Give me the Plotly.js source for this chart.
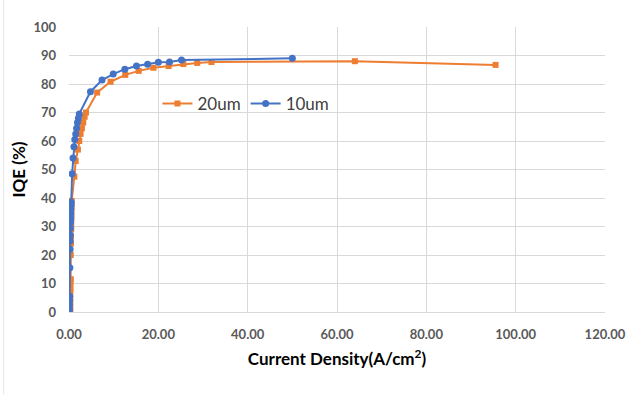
<!DOCTYPE html>
<html>
<head>
<meta charset="utf-8">
<script src="https://cdn.plot.ly/plotly-3.0.1.min.js"></script>
<style>html,body{margin:0;padding:0;background:#fff;}#chart{width:630px;height:394px;}</style>
</head>
<body>
<div id="chart"></div>
<script>
// Series 20um (orange squares)
const x20 = [0.3,0.3,0.3,0.3,0.35,0.35,0.4,0.4,0.45,0.45,0.5,0.5,0.55,0.55,0.6,0.6,1.2,1.5,2.0,2.3,2.6,2.9,3.2,3.5,3.8,6.3,9.3,12.6,15.6,18.9,22.3,25.6,28.7,31.9,64.0,95.5];
const y20 = [0,2,4,6,8,10,11.5,20,24,26.5,29,31,33,35,37,39,47.5,53,57,60,62.5,64.5,66.5,68.5,70,77,80.8,83.2,84.6,85.7,86.3,87,87.4,87.7,88,86.7];
// Series 10um (blue circles)
const x10 = [0.1,0.1,0.12,0.14,0.16,0.2,0.25,0.28,0.3,0.32,0.35,0.38,0.4,0.42,0.45,0.5,0.7,0.9,1.1,1.3,1.5,1.7,1.9,2.1,2.3,4.8,7.4,9.9,12.5,15.1,17.6,20.0,22.5,25.2,50.0];
const y10 = [0,1,2.5,4,5.5,15.5,22,25,27,29.5,31.5,33,34.5,36,37.5,38.5,48.5,54,58,60.5,62.5,64.5,66.5,68,69.5,77.3,81.4,83.5,85.2,86.3,86.9,87.6,87.7,88.4,89];
const seriesNames = ['20um', '10um'];
const xTicks = [0,20,40,60,80,100,120];
const yTicks = [0,10,20,30,40,50,60,70,80,90,100];

const FONT = 'Lato, "Open Sans", sans-serif';
const traces = [
  {x: x20, y: y20, name: seriesNames[0], type: 'scatter', mode: 'lines+markers',
   line: {color: '#ED7D31', width: 2}, marker: {symbol: 'square', size: 6, color: '#ED7D31'}},
  {x: x10, y: y10, name: seriesNames[1], type: 'scatter', mode: 'lines+markers',
   line: {color: '#4472C4', width: 2}, marker: {symbol: 'circle', size: 7, color: '#4472C4'}}
];
const layout = {
  width: 630, height: 394,
  margin: {l: 68.5, r: 25, t: 27, b: 82},
  paper_bgcolor: '#ffffff', plot_bgcolor: '#ffffff',
  showlegend: true,
  legend: {orientation: 'h', x: 0.165, y: 0.73, xanchor: 'left', yanchor: 'middle',
           bgcolor: 'rgba(0,0,0,0)', font: {family: FONT, size: 17, color: '#404040'},
           itemwidth: 30, tracegroupgap: 0},
  xaxis: {range: [0, 120], tickvals: xTicks, ticktext: xTicks.map(v => v.toFixed(2)),
          showgrid: true, gridcolor: '#d9d9d9', gridwidth: 1, zeroline: false,
          showline: true, linecolor: '#d9d9d9', ticks: '', ticklen: 0, ticklabelstandoff: 10,
          tickfont: {family: FONT, size: 13, color: '#595959', weight: 'bold'},
          title: {text: 'Current Density(A/cm<sup>2</sup>)', standoff: 12,
                  font: {family: FONT, size: 17, color: '#000000', weight: 'bold'}}},
  yaxis: {range: [0, 100], tickvals: yTicks,
          showgrid: true, gridcolor: '#d9d9d9', gridwidth: 1, zeroline: false,
          showline: false, ticks: '', ticklen: 0, ticklabelstandoff: 12,
          tickfont: {family: FONT, size: 13, color: '#595959', weight: 'bold'},
          title: {text: 'IQE (%)', standoff: 3,
                  font: {family: FONT, size: 17, color: '#000000', weight: 'bold'}}},
  shapes: [{type: 'line', xref: 'paper', yref: 'paper', x0: -0.122, x1: -0.122, y0: -0.3, y1: 1.1,
            line: {color: '#e6e6e6', width: 1}}]
};
Plotly.newPlot('chart', traces, layout, {displayModeBar: false, staticPlot: true});
</script>
</body>
</html>
